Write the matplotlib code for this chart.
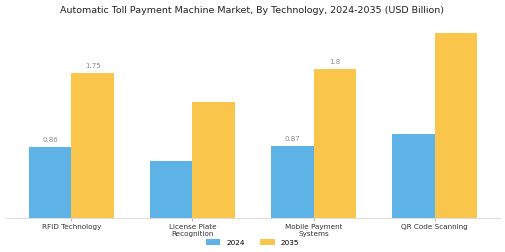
import matplotlib.pyplot as plt
import numpy as np

categories = ["RFID Technology", "License Plate\nRecognition", "Mobile Payment\nSystems", "QR Code Scanning"]
values_2024 = [0.86, 0.69, 0.87, 1.02]
values_2035 = [1.75, 1.40, 1.80, 2.24]
# only some bars carry a printed value in the source
labels_2024 = ["0.86", "", "0.87", ""]
labels_2035 = ["1.75", "", "1.8", ""]

fig = plt.figure(figsize=(5.05, 2.53), dpi=100)
ax = fig.add_axes([0.012, 0.134, 0.978, 0.759])

x = np.arange(len(categories))
w = 0.35
b1 = ax.bar(x - w / 2, values_2024, w, color="#5DB3E6", label="2024")
b2 = ax.bar(x + w / 2, values_2035, w, color="#F9C54A", label="2035")

for bars, labs in [(b1, labels_2024), (b2, labels_2035)]:
    for rect, lab in zip(bars, labs):
        if lab:
            ax.text(rect.get_x() + rect.get_width() / 2, rect.get_height() + 0.06, lab,
                    ha="center", va="bottom", fontsize=5, color="#888888")

ax.set_xlim(-0.54, 3.54)
ax.set_ylim(0, 2.32)
ax.set_xticks(x)
ax.set_xticklabels(categories, fontsize=5.2, color="#333333", linespacing=1.2)
ax.tick_params(axis="x", length=2, width=0.5, color="#999999", pad=1.5)
ax.set_yticks([])
for s in ["top", "right", "left"]:
    ax.spines[s].set_visible(False)
ax.spines["bottom"].set_color("#dddddd")
ax.spines["bottom"].set_linewidth(0.8)

fig.suptitle("Automatic Toll Payment Machine Market, By Technology, 2024-2035 (USD Billion)",
             fontsize=6.8, color="#222222", y=0.96, va="center")
fig.legend(loc="lower center", ncol=2, fontsize=5.2, frameon=False,
           bbox_to_anchor=(0.5, 0.0), handlelength=2.0, handleheight=0.8, columnspacing=2.2)

fig.savefig("out.png", dpi=100)
